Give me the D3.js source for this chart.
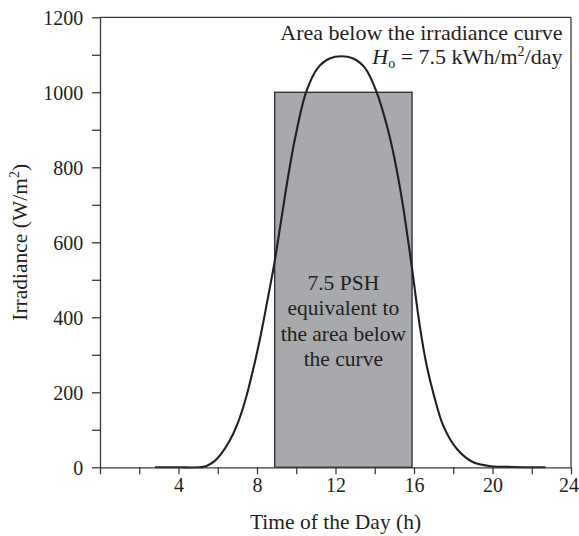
<!DOCTYPE html>
<html>
<head>
<meta charset="utf-8">
<script src="https://cdn.jsdelivr.net/npm/d3@7"></script>
<style>
  html, body { margin: 0; padding: 0; background: #fff; }
  svg { display: block; }
  text { font-family: "Liberation Serif", "DejaVu Serif", serif; fill: #231f20; }
</style>
</head>
<body>
<svg id="chart" width="579" height="536"></svg>
<script>
// ---- data ----
const hours = [2.8, 4.0, 5.0, 5.4, 5.8, 6.2, 6.6, 7.0, 7.4, 7.8, 8.2, 8.55, 8.88, 9.25, 9.6, 9.95, 10.5, 11.1, 11.7, 12.3, 12.9, 13.5, 14.1, 14.65, 15.0, 15.4, 15.88, 16.3, 16.65, 17.0, 17.5, 18.2, 19.0, 19.9, 21.0, 22.7];
const irradiance = [0, 0, 0, 3, 15, 38, 70, 115, 178, 260, 355, 450, 543, 665, 780, 880, 1000, 1065, 1090, 1096, 1090, 1065, 1000, 905, 825, 710, 538, 375, 270, 195, 110, 48, 14, 3, 1, 0];
const pshStart = 8.9;
const pshEnd = 15.9;
const pshLevel = 1000;
const xTicks = [0, 2, 4, 6, 8, 10, 12, 14, 16, 18, 20, 22, 24];
const xTickLabels = ["", "", "4", "", "8", "", "12", "", "16", "", "20", "", "24"];
const yTicks = [0, 100, 200, 300, 400, 500, 600, 700, 800, 900, 1000, 1100, 1200];
const yTickLabels = ["0", "", "200", "", "400", "", "600", "", "800", "", "1000", "", "1200"];
const boxLines = ["7.5 PSH", "equivalent to", "the area below", "the curve"];
const xTitle = "Time of the Day (h)";
const noteLine1 = "Area below the irradiance curve";

// ---- layout ----
const svg = d3.select("#chart");
const mLeft = 100, mRight = 571, mTop = 17.3, mBottom = 467.3;
const x = d3.scaleLinear().domain([0, 24]).range([mLeft, mRight]);
const y = d3.scaleLinear().domain([0, 1200]).range([mBottom, mTop]);
const ink = "#231f20";
const axisColor = "#3a3a3a";

// PSH rectangle
svg.append("rect")
  .attr("x", x(pshStart))
  .attr("y", y(pshLevel))
  .attr("width", x(pshEnd) - x(pshStart))
  .attr("height", y(0) - y(pshLevel))
  .attr("fill", "#a7a9ac")
  .attr("stroke", "#333")
  .attr("stroke-width", 1.4);

// box text
const boxCx = (x(pshStart) + x(pshEnd)) / 2;
svg.append("g").selectAll("text").data(boxLines).join("text")
  .attr("x", boxCx)
  .attr("y", (d, i) => 289.5 + i * 25.5)
  .attr("text-anchor", "middle")
  .attr("font-size", 21.5)
  .text(d => d);

// curve
const pts = hours.map((h, i) => [h, irradiance[i]]);
svg.append("path")
  .datum(pts)
  .attr("fill", "none")
  .attr("stroke", ink)
  .attr("stroke-width", 2.1)
  .attr("d", d3.line().x(d => x(d[0])).y(d => y(Math.max(0, d[1]))).curve(d3.curveCatmullRom.alpha(0.5)));

// frame top & right
svg.append("line").attr("x1", mLeft).attr("x2", mRight).attr("y1", mTop).attr("y2", mTop)
  .attr("stroke", axisColor).attr("stroke-width", 1.3);
svg.append("line").attr("x1", mRight).attr("x2", mRight).attr("y1", mTop).attr("y2", mBottom)
  .attr("stroke", axisColor).attr("stroke-width", 1.3);

// x axis
const xAxis = svg.append("g").attr("transform", `translate(0,${mBottom})`)
  .call(d3.axisBottom(x).tickValues(xTicks).tickSize(7).tickSizeOuter(0)
    .tickFormat((d, i) => xTickLabels[i]));
xAxis.select(".domain").attr("stroke", axisColor).attr("stroke-width", 1.3);
xAxis.selectAll(".tick line").attr("stroke", axisColor).attr("stroke-width", 1.3);
xAxis.selectAll(".tick text").attr("font-size", 20).attr("fill", ink)
  .attr("font-family", "Liberation Serif").attr("y", 11).attr("dy", "0.71em");
// keep the last label inside the page edge
xAxis.selectAll(".tick text").filter(d => d === 24)
  .attr("text-anchor", "end").attr("x", 7.5);

// y axis
const yAxis = svg.append("g").attr("transform", `translate(${mLeft},0)`)
  .call(d3.axisLeft(y).tickValues(yTicks).tickSize(8).tickSizeOuter(0)
    .tickFormat((d, i) => yTickLabels[i]));
yAxis.select(".domain").attr("stroke", axisColor).attr("stroke-width", 1.3);
yAxis.selectAll(".tick line").attr("stroke", axisColor).attr("stroke-width", 1.3);
yAxis.selectAll(".tick text").attr("font-size", 20).attr("fill", ink)
  .attr("font-family", "Liberation Serif").attr("x", -16.7).attr("dy", "0.34em");

// axis titles
svg.append("text")
  .attr("x", (mLeft + mRight) / 2)
  .attr("y", 529)
  .attr("text-anchor", "middle")
  .attr("font-size", 21.5)
  .text(xTitle);

const yt = svg.append("text")
  .attr("transform", `translate(27,${(mTop + mBottom) / 2}) rotate(-90)`)
  .attr("text-anchor", "middle")
  .attr("font-size", 21.5);
yt.append("tspan").text("Irradiance (W/m");
yt.append("tspan").attr("font-size", 14).attr("dy", -8).text("2");
yt.append("tspan").attr("dy", 8).text(")");

// note
svg.append("text")
  .attr("x", 562.5).attr("y", 39.5)
  .attr("text-anchor", "end")
  .attr("font-size", 22)
  .text(noteLine1);

const n2 = svg.append("text")
  .attr("x", 562.5).attr("y", 63.5)
  .attr("text-anchor", "end")
  .attr("font-size", 22);
n2.append("tspan").attr("font-style", "italic").text("H");
n2.append("tspan").attr("font-size", 14).attr("dy", 4).text("o");
n2.append("tspan").attr("dy", -4).text(" = 7.5 kWh/m");
n2.append("tspan").attr("font-size", 14).attr("dy", -8).text("2");
n2.append("tspan").attr("dy", 8).text("/day");
</script>
</body>
</html>
